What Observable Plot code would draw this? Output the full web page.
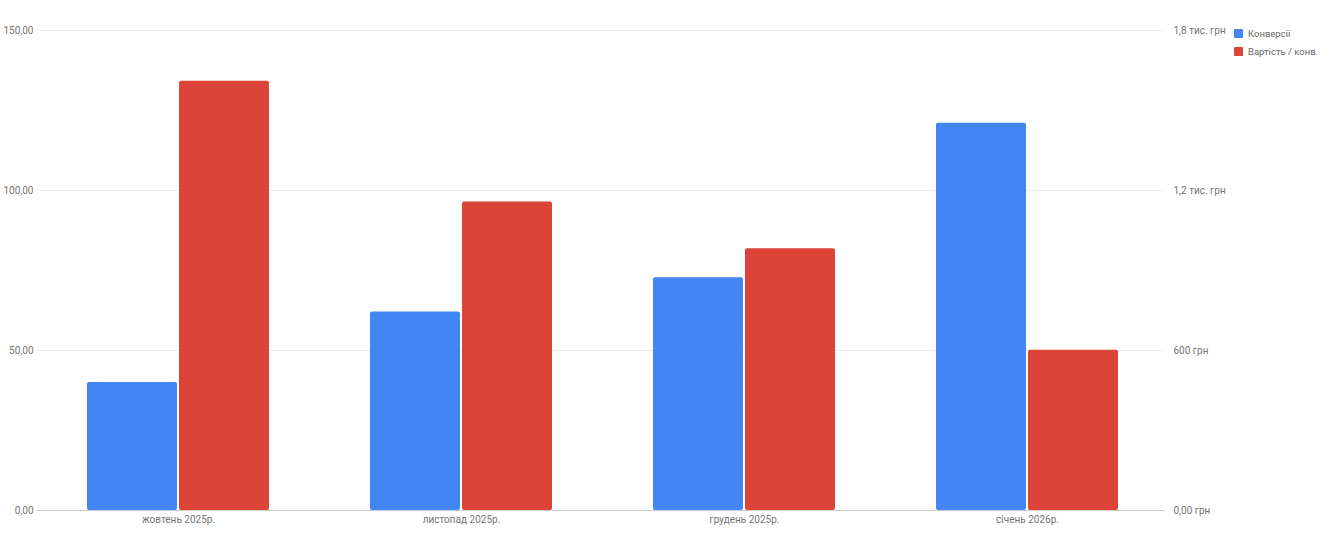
<!DOCTYPE html>
<html>
<head>
<meta charset="utf-8">
<script src="https://cdn.jsdelivr.net/npm/d3@7"></script>
<script src="https://cdn.jsdelivr.net/npm/@observablehq/plot@0.6"></script>
<style>
  body { margin: 0; background: #fff; }
  #wrap { position: relative; width: 1329px; height: 539px; font-family: Roboto, Arial, sans-serif; }
  #wrap svg { position: absolute; left: 0; top: 0; }
  #legend { position: absolute; left: 1234px; top: 24px; font-size: 9.5px; color: #666; }
  #legend .item { display: flex; align-items: center; height: 18px; }
  #legend .sw { width: 9px; height: 9px; margin-right: 5px; border-radius: 1px; }
</style>
</head>
<body>
<div id="wrap"><div id="legend"></div></div>
<script>
const months = ["жовтень 2025р.", "листопад 2025р.", "грудень 2025р.", "січень 2026р."];
const conversions = [40, 62, 72.7, 121];
const costPerConv = [1610, 1157, 982, 601];
const seriesNames = ["Конверсії", "Вартість / конв."];
const seriesColors = ["#4285F4", "#DB4437"];
const leftTicks = [0, 50, 100, 150];
const rightTickLabels = ["0,00 грн", "600 грн", "1,2 тис. грн", "1,8 тис. грн"];
const leftMax = 150;
const rightMax = 1800;

const ratio = rightMax / leftMax;
const rightLabelMap = new Map(leftTicks.map((t, i) => [t, rightTickLabels[i]]));
const rows = months.flatMap((m, i) => [
  {month: m, series: seriesNames[0], y: conversions[i]},
  {month: m, series: seriesNames[1], y: costPerConv[i] / ratio}
]);

const common = {
  width: 1329,
  height: 539,
  marginLeft: 37,
  marginRight: 164,
  marginTop: 30,
  marginBottom: 29,
  y: {domain: [0, leftMax], axis: null}
};
const font = {fontFamily: "Roboto, Arial, sans-serif", fontSize: "10px", color: "#757575"};

// background layer: gridlines and both value axes
const back = Plot.plot({
  ...common,
  style: {...font, background: "white"},
  marks: [
    Plot.ruleY(leftTicks.slice(1), {stroke: "#ebebeb"}),
    Plot.ruleY([0], {stroke: "#cccccc"}),
    Plot.axisY(leftTicks, {anchor: "left", tickSize: 0, tickPadding: 4, label: null,
      tickFormat: d => d.toFixed(2).replace(".", ",")}),
    Plot.axisY(leftTicks, {anchor: "right", tickSize: 0, tickPadding: 8, label: null,
      tickFormat: d => rightLabelMap.get(d)})
  ]
});

// foreground layer: grouped bars
const front = Plot.plot({
  ...common,
  marginRight: 160,
  style: {...font, background: "transparent"},
  fx: {domain: months, paddingInner: 0.334, paddingOuter: 0.164, label: null},
  x: {domain: seriesNames, padding: 0.027, axis: null},
  color: {domain: seriesNames, range: seriesColors},
  marks: [
    Plot.barY(rows, {fx: "month", x: "series", y: "y", fill: "series", rx: 2}),
    Plot.axisFx({anchor: "bottom", tickSize: 0, tickPadding: 5, label: null})
  ]
});

const wrap = document.getElementById("wrap");
wrap.prepend(front);
wrap.prepend(back);

const legend = document.getElementById("legend");
seriesNames.forEach((s, i) => {
  const it = document.createElement("div");
  it.className = "item";
  it.innerHTML = `<span class="sw" style="background:${seriesColors[i]}"></span><span>${s}</span>`;
  legend.appendChild(it);
});
</script>
</body>
</html>
